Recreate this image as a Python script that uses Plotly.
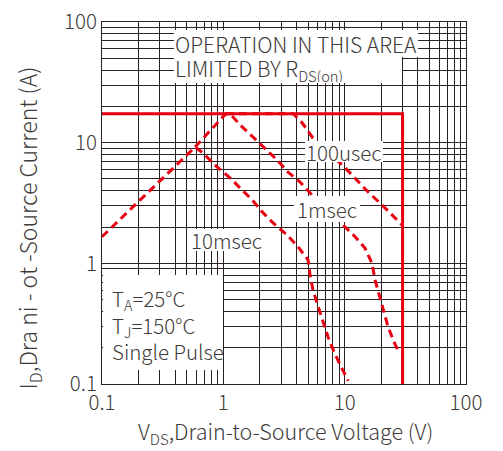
import plotly.graph_objects as go

# ---- data ----
soa_v = [0.1, 30, 30]
soa_i = [17.4, 17.4, 0.1]

ms10_v = [0.1, 0.585, 0.68, 0.887, 1.135, 1.37, 1.73, 2.09, 2.57, 3.35, 4.13, 4.99,
          5.19, 5.48, 6.03, 6.64, 7.30, 8.18, 9.34, 10.7]
ms10_i = [1.66, 9.2, 8.2, 6.3, 5.1, 4.2, 3.35, 2.67, 2.16, 1.72, 1.37, 1.07,
          0.80, 0.60, 0.436, 0.327, 0.245, 0.184, 0.139, 0.106]

ms1_v = [0.585, 1.05, 1.20, 1.43, 1.76, 2.21, 2.77, 3.41, 4.29, 5.19, 10.07, 12.2,
         14.7, 16.8, 17.8, 19.2, 20.7, 22.8, 25.5, 28.1]
ms1_i = [9.2, 17.4, 16.3, 13.5, 11.1, 9.0, 7.2, 5.7, 4.72, 3.83, 2.0, 1.66,
         1.34, 1.0, 0.73, 0.55, 0.41, 0.297, 0.223, 0.181]

us100_v = [1.05, 3.76, 4.46, 5.48, 10.07, 12.6, 15.6, 19.6, 24.6, 29.7]
us100_i = [17.4, 17.4, 14.6, 10.9, 6.2, 4.9, 3.9, 3.16, 2.52, 2.08]

major_ticks = [0.1, 1, 10, 100]
major_text = ["0.1", "1", "10", "100"]
minor_ticks = [m * d for d in (0.1, 1, 10) for m in range(2, 10)]

RED = "#e60012"
GRID = "#2a2222"
TXT = "#3e3a39"
FONT = "Noto Sans CJK SC"

fig = go.Figure()
dash = dict(color=RED, width=3, dash="8px,5px")
for v, i in ((ms10_v, ms10_i), (ms1_v, ms1_i), (us100_v, us100_i)):
    fig.add_trace(go.Scatter(x=v, y=i, mode="lines", line=dash, showlegend=False,
                             hoverinfo="skip"))
fig.add_trace(go.Scatter(x=soa_v, y=soa_i, mode="lines",
                         line=dict(color=RED, width=3), showlegend=False,
                         hoverinfo="skip"))

axis_common = dict(
    type="log", range=[-1, 2], automargin=False,
    tickmode="array", tickvals=major_ticks, ticktext=major_text,
    showgrid=True, gridcolor=GRID, gridwidth=1,
    minor=dict(tickvals=minor_ticks, showgrid=True, gridcolor=GRID, gridwidth=1,
               ticks=""),
    showline=True, mirror=True, linecolor=GRID, linewidth=1,
    ticks="", zeroline=False,
    tickfont=dict(family=FONT, size=20.5, color=TXT, weight=300),
)
fig.update_xaxes(**axis_common)
fig.update_yaxes(**axis_common)

def box(text, x, y, w=None, h=None, xanchor="center", yanchor="middle", align="center",
        size=20.5, pad=1, bg="white"):
    fig.add_annotation(
        text=text, xref="paper", yref="paper", x=x, y=y,
        xanchor=xanchor, yanchor=yanchor, width=w, height=h, align=align,
        showarrow=False, bgcolor=bg, borderpad=pad, borderwidth=0,
        font=dict(family=FONT, size=size, color=TXT, weight=300),
    )

box("OPERATION IN THIS AREA", 0.198, 0.978, None, 25,
    xanchor="left", yanchor="top", align="left", size=21)
box("LIMITED BY R<sub>DS(on)</sub>", 0.198, 0.905, 226, 25,
    xanchor="left", yanchor="top", align="left", size=21)
box("100usec", 0.665, 0.641, None, 19)
box("1msec", 0.618, 0.483, None, 20, pad=3)
box("10msec", 0.343, 0.398, None, 20, pad=1)

# white panel behind the conditions text
fig.add_shape(type="rect", xref="paper", yref="paper", x0=0.003, x1=0.332,
              y0=0.039, y1=0.301, fillcolor="white", line_width=0, layer="above")
box("T<sub>A</sub>=25°C<br>T<sub>J</sub>=150°C<br>Single Pulse",
    0.0275, 0.165, xanchor="left", yanchor="middle", align="left",
    size=20.5, pad=0, bg="rgba(0,0,0,0)")

fig.add_annotation(
    text="I<sub>D</sub>,Dra ni - ot -Source Current (A)", textangle=-90,
    xref="paper", yref="paper", x=-0.203, y=0.43, xanchor="center", yanchor="middle",
    showarrow=False, font=dict(family=FONT, size=23, color=TXT, weight=300))
fig.add_annotation(
    text="V<sub>DS</sub>,Drain-to-Source Voltage (V)",
    xref="paper", yref="paper", x=0.505, y=-0.133, xanchor="center", yanchor="middle",
    showarrow=False, font=dict(family=FONT, size=21.5, color=TXT, weight=300))

fig.update_layout(
    width=503, height=451, autosize=False,
    margin=dict(l=102, r=37, t=22, b=67),
    paper_bgcolor="white", plot_bgcolor="white",
)
fig.write_html("out.html")
